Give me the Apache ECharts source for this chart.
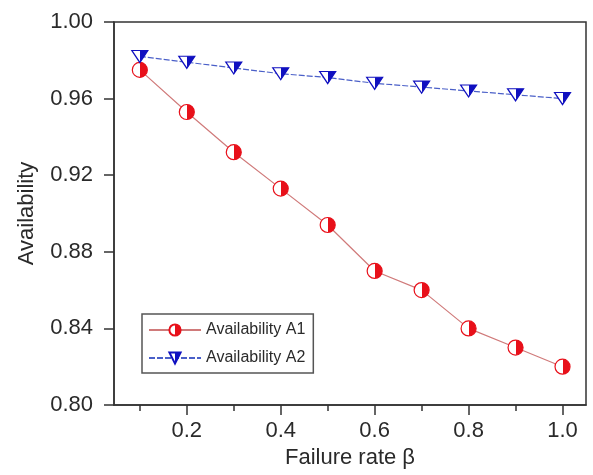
<!DOCTYPE html>
<html>
<head>
<meta charset="utf-8">
<script src="https://cdn.jsdelivr.net/npm/echarts@6/dist/echarts.min.js"></script>
<style>
html, body { margin: 0; padding: 0; background: #fff; }
#chart { width: 593px; height: 475px; }
</style>
</head>
<body>
<div id="chart"></div>
<script>
// values
const failureRate = [0.1, 0.2, 0.3, 0.4, 0.5, 0.6, 0.7, 0.8, 0.9, 1.0]
const availA1 = [0.975, 0.953, 0.932, 0.913, 0.894, 0.870, 0.860, 0.840, 0.830, 0.820]
const availA2 = [0.982, 0.979, 0.976, 0.973, 0.971, 0.968, 0.966, 0.964, 0.962, 0.960]
const xMajorTicks = [0.2, 0.4, 0.6, 0.8, 1.0]
const xMinorTicks = [0.1, 0.3, 0.5, 0.7, 0.9]

const pairs = (ys) => failureRate.map((x, i) => [x, ys[i]])

// half white / half coloured fill, like the origin markers
const halfFill = (c) => ({
  type: 'linear', x: 0, y: 0, x2: 1, y2: 0,
  colorStops: [
    { offset: 0, color: '#fff' }, { offset: 0.5, color: '#fff' },
    { offset: 0.5, color: c }, { offset: 1, color: c }
  ]
})

const axisFont = { fontFamily: 'Liberation Sans', fontSize: 22, color: '#2a2a2a' }

const chart = echarts.init(document.getElementById('chart'))
chart.setOption({
  animation: false,
  grid: {
    left: 114, right: 7, top: 22, bottom: 70,
    show: true, borderColor: '#333', borderWidth: 1.5
  },
  legend: {
    orient: 'vertical',
    left: 142, top: 314,
    itemWidth: 52, itemHeight: 14, itemGap: 12,
    padding: [8, 8, 7, 6],
    borderColor: '#555', borderWidth: 1.5,
    textStyle: { fontFamily: 'Liberation Sans', fontSize: 16, color: '#2a2a2a' },
    data: ['Availability A1', 'Availability A2']
  },
  xAxis: [
    {
      type: 'value', min: 0.045, max: 1.05,
      name: 'Failure rate β', nameLocation: 'middle', nameGap: 41,
      nameTextStyle: axisFont,
      splitLine: { show: false },
      axisLine: { lineStyle: { color: '#333', width: 1.5 } },
      axisTick: { inside: false, length: 10, lineStyle: { color: '#333', width: 1.5 }, customValues: xMajorTicks },
      axisLabel: Object.assign({ margin: 15, customValues: xMajorTicks, formatter: v => v.toFixed(1) }, axisFont)
    },
    {
      type: 'value', min: 0.045, max: 1.05, position: 'bottom',
      splitLine: { show: false },
      axisLine: { show: false },
      axisLabel: { show: false },
      axisTick: { length: 6, lineStyle: { color: '#333', width: 1.5 }, customValues: xMinorTicks }
    }
  ],
  yAxis: {
    type: 'value', min: 0.8, max: 1.0, interval: 0.04,
    name: 'Availability', nameLocation: 'middle', nameGap: 76,
    nameTextStyle: axisFont,
    splitLine: { show: false },
    axisLine: { show: true, lineStyle: { color: '#333', width: 1.5 } },
    axisTick: { show: true, length: 10, lineStyle: { color: '#333', width: 1.5 } },
    axisLabel: Object.assign({ margin: 21, formatter: v => v.toFixed(2) }, axisFont)
  },
  series: [
    {
      name: 'Availability A1',
      type: 'line',
      data: pairs(availA1),
      symbol: 'circle',
      symbolSize: 15,
      lineStyle: { color: '#d07a7a', width: 1.2 },
      itemStyle: { color: halfFill('#e8101a'), borderColor: '#e8101a', borderWidth: 1.2 },
      z: 2
    },
    {
      name: 'Availability A2',
      type: 'line',
      data: pairs(availA2),
      symbol: 'path://M0,0 L10,0 L5,8 Z',
      symbolSize: [16, 12],
      lineStyle: { color: '#4a5fc8', width: 1.2, type: [6, 2] },
      itemStyle: { color: halfFill('#1010c0'), borderColor: '#1010c0', borderWidth: 1.2 },
      z: 3
    }
  ]
})
</script>
</body>
</html>
